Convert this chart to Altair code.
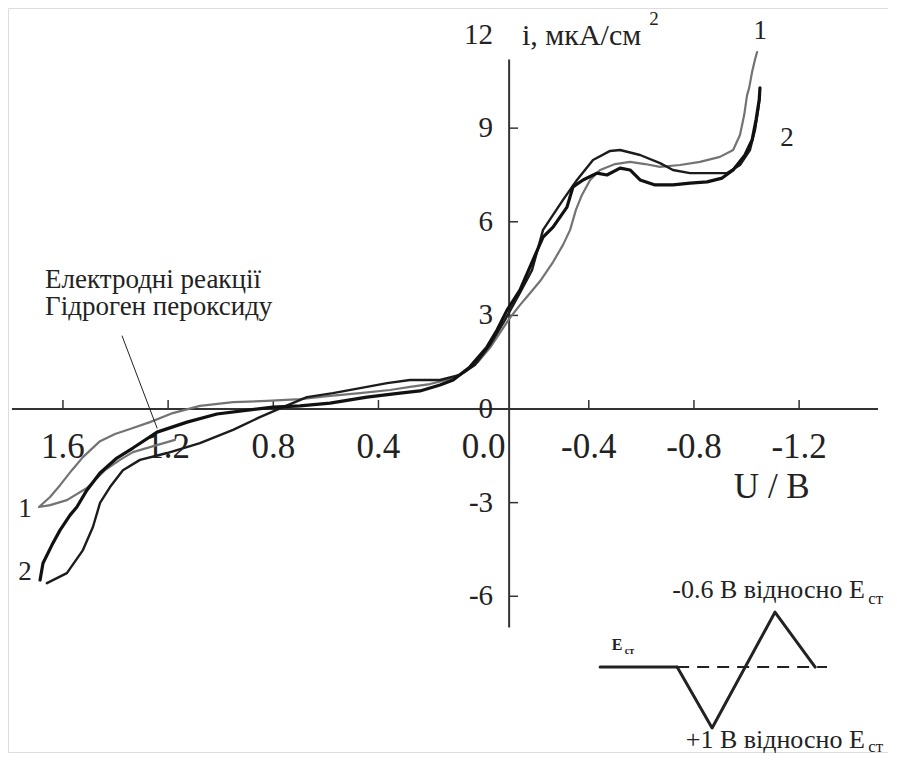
import altair as alt
import pandas as pd

# ---------------- data (U in V, i in uA/cm^2) ----------------
# curve 1 (grey)
c1_u = [1.174, 1.269, 1.334, 1.383, 1.440, 1.509, 1.585, 1.649, 1.691, 1.649, 1.611, 1.566, 1.524,
        1.459, 1.402, 1.345, 1.269, 1.182, 1.079, 0.953, 0.824, 0.698, 0.584, 0.470, 0.356, 0.280,
        0.204, 0.128, 0.071, 0.021, -0.024, -0.062, -0.100, -0.138, -0.177, -0.215, -0.264, -0.302,
        -0.329, -0.351, -0.374, -0.405, -0.443, -0.500, -0.557, -0.614, -0.671, -0.747, -0.823,
        -0.899, -0.949, -0.975, -0.991, -1.002, -1.010, -1.021, -1.032, -1.040]
c1_i = [-0.99, -1.22, -1.38, -1.63, -1.96, -2.53, -2.92, -3.08, -3.14, -2.82, -2.44, -1.96, -1.54,
        -1.03, -0.80, -0.64, -0.42, -0.13, 0.10, 0.22, 0.26, 0.32, 0.42, 0.51, 0.61, 0.71,
        0.80, 0.96, 1.19, 1.51, 1.96, 2.44, 2.92, 3.33, 3.72, 4.10, 4.71, 5.26,
        5.74, 6.38, 6.86, 7.34, 7.66, 7.85, 7.92, 7.85, 7.76, 7.82, 7.92,
        8.08, 8.30, 8.78, 9.42, 10.06, 10.29, 10.80, 11.19, 11.44]

# curve 2, first cycle (black, thick)
c2a_u = [1.687, 1.676, 1.642, 1.611, 1.573, 1.547, 1.509, 1.459, 1.395, 1.334, 1.242, 1.128, 1.014,
         0.889, 0.801, 0.698, 0.584, 0.444, 0.318, 0.242, 0.166, 0.116, 0.052, -0.013, -0.051,
         -0.089, -0.138, -0.188, -0.226, -0.264, -0.317, -0.340, -0.378, -0.431, -0.469, -0.519,
         -0.557, -0.595, -0.652, -0.720, -0.785, -0.850, -0.907, -0.949, -0.994, -1.021, -1.036,
         -1.048, -1.051]
c2a_i = [-5.48, -4.94, -4.36, -3.88, -3.40, -3.14, -2.60, -2.05, -1.57, -1.25, -0.74, -0.42, -0.16,
         -0.03, 0.06, 0.10, 0.19, 0.38, 0.51, 0.58, 0.77, 0.93, 1.35, 1.99, 2.53,
         3.17, 3.81, 4.78, 5.51, 5.83, 6.47, 7.12, 7.34, 7.56, 7.50, 7.72,
         7.66, 7.34, 7.18, 7.18, 7.24, 7.28, 7.40, 7.66, 8.14, 8.62, 9.26,
         9.90, 10.29]

# curve 2, second cycle (black)
c2b_u = [1.661, 1.585, 1.524, 1.486, 1.459, 1.421, 1.372, 1.307, 1.204, 1.079, 0.953, 0.851, 0.763,
         0.672, 0.573, 0.444, 0.367, 0.280, 0.166, 0.090, 0.033, -0.024, -0.081, -0.138, -0.184,
         -0.226, -0.302, -0.355, -0.416, -0.481, -0.519, -0.595, -0.671, -0.720, -0.785, -0.861,
         -0.926, -0.975, -1.013, -1.032, -1.044, -1.051]
c2b_i = [-5.58, -5.26, -4.52, -3.78, -3.01, -2.50, -1.96, -1.63, -1.41, -1.09, -0.67, -0.26, 0.06,
         0.38, 0.51, 0.71, 0.83, 0.93, 0.93, 1.09, 1.41, 2.05, 2.85, 3.72, 4.45,
         5.74, 6.70, 7.34, 7.98, 8.27, 8.30, 8.14, 7.88, 7.66, 7.56, 7.56,
         7.56, 7.82, 8.30, 8.94, 9.58, 10.06]

# axes
x_ticks = [1.6, 1.2, 0.8, 0.4, -0.4, -0.8, -1.2]
x_labels = [1.6, 1.2, 0.8, 0.4, 0.0, -0.4, -0.8, -1.2]
x_label_text = ["1.6", "1.2", "0.8", "0.4", "0.0", "-0.4", "-0.8", "-1.2"]
y_ticks = [9, 6, 3, -3, -6]
y_labels = [12, 9, 6, 3, 0, -3, -6]
y_label_text = ["12", "9", "6", "3", "0", "-3", "-6"]

# potential programme inset (relative units drawn in chart coordinates)
wave_u = [-0.443, -0.736, -0.869, -1.108, -1.261]
wave_i = [-8.27, -8.27, -10.22, -6.51, -8.27]

# ---------------- layout constants ----------------
X_DOMAIN = [-1.538, 1.809]
Y_DOMAIN = [-10.99, 12.85]
Y_AXIS_AT = -0.097
X_AXIS_EXTENT = [1.794, -1.5]
Y_AXIS_EXTENT = [-7.0, 11.2]
FONT = "Liberation Serif, Times New Roman, serif"
INK = "#222222"
GREY = "#737373"

xs = alt.Scale(domain=X_DOMAIN, reverse=True, nice=False, zero=False)
ys = alt.Scale(domain=Y_DOMAIN, nice=False, zero=False)


def X(f):
    return alt.X(f"{f}:Q", scale=xs, axis=None)


def Y(f):
    return alt.Y(f"{f}:Q", scale=ys, axis=None)


def curve(us, is_, color, width):
    df = pd.DataFrame({"u": us, "i": is_, "k": list(range(len(us)))})
    return alt.Chart(df).mark_line(color=color, strokeWidth=width, strokeJoin="round",
                                   strokeCap="round").encode(
        x=X("u"), y=Y("i"), order="k:Q")


def text_layer(u, i, txt, size, align="left", baseline="alphabetic", weight="normal"):
    df = pd.DataFrame({"u": [u], "i": [i], "t": [txt]})
    return alt.Chart(df).mark_text(font=FONT, fontSize=size, align=align, baseline=baseline,
                                   color=INK, fontWeight=weight).encode(
        x=X("u"), y=Y("i"), text="t:N")


# axis lines
xaxis = alt.Chart(pd.DataFrame({"a": [X_AXIS_EXTENT[0]], "b": [X_AXIS_EXTENT[1]], "y": [0.0]})) \
    .mark_rule(color="#333333", strokeWidth=2).encode(x=X("a"), x2="b:Q", y=Y("y"))
yaxis = alt.Chart(pd.DataFrame({"a": [Y_AXIS_EXTENT[0]], "b": [Y_AXIS_EXTENT[1]], "x": [Y_AXIS_AT]})) \
    .mark_rule(color="#333333", strokeWidth=2).encode(y=Y("a"), y2="b:Q", x=X("x"))

xt = alt.Chart(pd.DataFrame({"u": x_ticks})).transform_calculate(y0="0", y1="0.29") \
    .mark_rule(color="#333333", strokeWidth=1.5).encode(x=X("u"), y=Y("y0"), y2="y1:Q")
yt = alt.Chart(pd.DataFrame({"i": y_ticks})).transform_calculate(x0=str(Y_AXIS_AT), x1=str(Y_AXIS_AT - 0.034)) \
    .mark_rule(color="#333333", strokeWidth=1.5).encode(y=Y("i"), x=X("x0"), x2="x1:Q")

xl = alt.Chart(pd.DataFrame({"u": x_labels, "t": x_label_text})).transform_calculate(y="-1.57") \
    .mark_text(font=FONT, fontSize=35, align="center", baseline="alphabetic", color=INK) \
    .encode(x=X("u"), y=Y("y"), text="t:N")
yl = alt.Chart(pd.DataFrame({"i": y_labels, "t": y_label_text})).transform_calculate(x="-0.036") \
    .mark_text(font=FONT, fontSize=29, align="right", baseline="middle", color=INK) \
    .encode(x=X("x"), y=Y("i"), text="t:N")

# inset waveform
wave_solid1 = curve(wave_u[:2], wave_i[:2], INK, 3)
wave_solid2 = curve(wave_u[1:], wave_i[1:], INK, 3)
dash_df = pd.DataFrame({"a": [wave_u[1]], "b": [-1.306], "y": [wave_i[1]]})
wave_dash = alt.Chart(dash_df).mark_rule(color=INK, strokeWidth=2, strokeDash=[12, 8]) \
    .encode(x=X("a"), x2="b:Q", y=Y("y"))

leader = curve([1.375, 1.242], [2.34, -0.61], INK, 1)

layers = [
    xaxis, yaxis, xt, yt, xl, yl,
    curve(c1_u, c1_i, GREY, 2.2),
    curve(c2b_u, c2b_i, "#1c1c1c", 2.4),
    curve(c2a_u, c2a_i, "#111111", 3.2),
    leader,
    text_layer(-0.146, 11.67, "i, мкА/см", 30),
    text_layer(-0.630, 12.50, "2", 19, baseline="middle"),
    text_layer(-1.096, -2.85, "U / B", 35, align="center"),
    text_layer(-1.052, 12.11, "1", 27, align="center", baseline="middle"),
    text_layer(-1.154, 8.69, "2", 27, align="center", baseline="middle"),
    text_layer(1.744, -3.21, "1", 27, align="center", baseline="middle"),
    text_layer(1.744, -5.22, "2", 27, align="center", baseline="middle"),
    text_layer(1.668, 3.88, "Електродні реакції", 27),
    text_layer(1.668, 3.01, "Гідроген пероксиду", 27),
    wave_solid1, wave_solid2, wave_dash,
    text_layer(-0.487, -7.72, "E", 16, weight="bold"),
    text_layer(-0.537, -7.86, "ст", 10, weight="bold"),
    text_layer(-1.450, -6.06, "-0.6 В відносно E", 26, align="right"),
    text_layer(-1.463, -6.26, "ст", 17),
    text_layer(-1.450, -10.85, "+1 В відносно E", 26, align="right"),
    text_layer(-1.463, -10.98, "ст", 17),
]

chart = alt.layer(*layers).properties(
    width=880, height=744,
    padding={"left": 0, "top": 0, "right": 0, "bottom": 4},
    autosize=alt.AutoSizeParams(type="none"),
).configure_view(stroke=None).configure(background="white")

chart.save("out.html", embed_options={"renderer": "svg", "actions": False})
